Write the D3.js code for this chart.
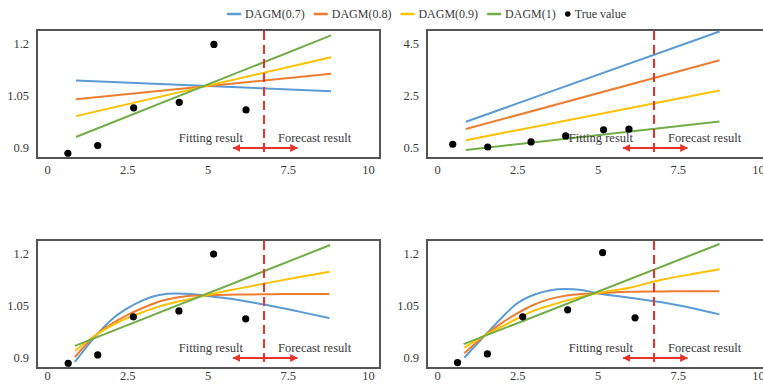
<!DOCTYPE html>
<html>
<head>
<meta charset="utf-8">
<script src="https://cdn.jsdelivr.net/npm/d3@7"></script>
<style>
  body { margin: 0; background: #fff; }
  svg text { font-family: "Liberation Serif", "Times New Roman", serif; }
</style>
</head>
<body>
<div id="chart"></div>
<script>
// legend / series
const seriesNames = ["DAGM(0.7)", "DAGM(0.8)", "DAGM(0.9)", "DAGM(1)"];
const trueLabel = "True value";
const xTicks = [0, 2.5, 5, 7.5, 10];
const splitX = 6.76;
const arrowFrom = 5.8;
const arrowTo = 7.8;
const fitLabel = "Fitting result";
const forecastLabel = "Forecast result";

// panel a (top left)
const aYTicks = [0.9, 1.05, 1.2];
const aTrueX = [0.65, 1.58, 2.7, 4.12, 5.2, 6.2];
const aTrueY = [0.882, 0.904, 1.013, 1.029, 1.196, 1.007];
const aLineX = [0.9, 8.85];
const aBlue = [1.092, 1.061];
const aOrange = [1.038, 1.111];
const aYellow = [0.989, 1.159];
const aGreen = [0.929, 1.222];

// panel b (top right)
const bYTicks = [0.5, 2.5, 4.5];
const bTrueX = [0.49, 1.58, 2.93, 4.01, 5.19, 5.98];
const bTrueY = [0.605, 0.5, 0.694, 0.927, 1.16, 1.187];
const bLineX = [0.9, 8.8];
const bBlue = [1.47, 4.94];
const bOrange = [1.19, 3.84];
const bYellow = [0.76, 2.675];
const bGreen = [0.384, 1.483];

// panel c (bottom left)
const cYTicks = [0.9, 1.05, 1.2];
const cTrueX = [0.66, 1.58, 2.69, 4.11, 5.19, 6.19];
const cTrueY = [0.882, 0.906, 1.016, 1.033, 1.197, 1.010];
const cCurveX = [0.87, 1.5, 2, 2.5, 3, 3.5, 4, 4.5, 5, 6, 7, 8, 8.8];
const cBlue = [0.886, 0.959, 1.007, 1.040, 1.064, 1.079, 1.083, 1.082, 1.076, 1.064, 1.047, 1.028, 1.012];
const cOrange = [0.900, 0.962, 0.995, 1.021, 1.042, 1.060, 1.071, 1.077, 1.078, 1.080, 1.081, 1.082, 1.082];
const cYellow = [0.918, 0.962, 0.990, 1.012, 1.030, 1.046, 1.058, 1.068, 1.079, 1.098, 1.116, 1.133, 1.146];
const cGreenX = [0.87, 8.82];
const cGreen = [0.932, 1.223];

// panel d (bottom right)
const dYTicks = [0.9, 1.05, 1.2];
const dTrueX = [0.64, 1.57, 2.67, 4.07, 5.16, 6.17];
const dTrueY = [0.884, 0.909, 1.016, 1.036, 1.201, 1.013];
const dCurveX = [0.85, 1.5, 2, 2.5, 3, 3.5, 4, 4.5, 5, 6, 7, 8, 8.8];
const dBlue = [0.898, 0.963, 1.012, 1.055, 1.079, 1.092, 1.096, 1.093, 1.084, 1.071, 1.058, 1.040, 1.023];
const dOrange = [0.911, 0.963, 0.997, 1.026, 1.050, 1.067, 1.077, 1.082, 1.084, 1.088, 1.089, 1.090, 1.090];
const dYellow = [0.927, 0.963, 0.987, 1.011, 1.033, 1.048, 1.062, 1.074, 1.084, 1.100, 1.123, 1.140, 1.153];
const dGreenX = [0.83, 8.8];
const dGreen = [0.937, 1.226];

const colors = ["#5b9bd5", "#ed7d31", "#ffc000", "#70ad47"];
const red = "#e8322a";
const textColor = "#3a3a3a";
const serif = "Liberation Serif, Times New Roman, serif";

const W = 763, H = 390;
const svg = d3.select("#chart").append("svg").attr("width", W).attr("height", H);

const defs = svg.append("defs");
["start", "end"].forEach(k => {
  defs.append("marker")
    .attr("id", "arrow-" + k)
    .attr("viewBox", "0 0 10 10")
    .attr("refX", 9).attr("refY", 5)
    .attr("markerWidth", 4).attr("markerHeight", 4)
    .attr("orient", k === "end" ? "auto" : "auto-start-reverse")
    .append("path")
      .attr("d", "M0,0 L10,5 L0,10 z")
      .attr("fill", red);
});

const panels = [
  { left: 37, top: 30, labelPad: 7, yTicks: aYTicks, trueX: aTrueX, trueY: aTrueY,
    series: [[aLineX, aBlue], [aLineX, aOrange], [aLineX, aYellow], [aLineX, aGreen]] },
  { left: 427, top: 30, labelPad: 7, yTicks: bYTicks, trueX: bTrueX, trueY: bTrueY,
    series: [[bLineX, bBlue], [bLineX, bOrange], [bLineX, bYellow], [bLineX, bGreen]] },
  { left: 37, top: 240, labelPad: 3, yTicks: cYTicks, trueX: cTrueX, trueY: cTrueY,
    series: [[cCurveX, cBlue], [cCurveX, cOrange], [cCurveX, cYellow], [cGreenX, cGreen]] },
  { left: 427, top: 240, labelPad: 3, yTicks: dYTicks, trueX: dTrueX, trueY: dTrueY,
    series: [[dCurveX, dBlue], [dCurveX, dOrange], [dCurveX, dYellow], [dGreenX, dGreen]] }
];

const boxW = 343, boxH = 128;

panels.forEach(p => {
  const g = svg.append("g").attr("transform", `translate(${p.left},${p.top})`);

  const x = d3.scaleLinear().domain([0, 10]).range([10, 331]);
  const y = d3.scaleLinear()
    .domain([p.yTicks[0], p.yTicks[p.yTicks.length - 1]])
    .range([boxH - 11, 13]);

  // plot frame
  g.append("rect")
    .attr("width", boxW).attr("height", boxH)
    .attr("fill", "none")
    .attr("stroke", "#555")
    .attr("stroke-width", 2);

  // y axis labels
  g.append("g")
    .call(d3.axisLeft(y).tickValues(p.yTicks).tickSize(0).tickPadding(8).tickFormat(d => d))
    .attr("font-family", serif)
    .attr("font-size", 12.5)
    .call(a => a.select(".domain").remove())
    .selectAll("text")
      .attr("fill", textColor);

  // x axis labels
  g.append("g")
    .attr("transform", `translate(0,${boxH})`)
    .call(d3.axisBottom(x).tickValues(xTicks).tickSize(0).tickPadding(p.labelPad).tickFormat(d => d))
    .attr("font-family", serif)
    .attr("font-size", 12.5)
    .call(a => a.select(".domain").remove())
    .selectAll("text")
      .attr("fill", textColor);

  // fitted lines
  p.series.forEach((s, i) => {
    const pts = s[0].map((v, j) => [v, s[1][j]]);
    g.append("path")
      .datum(pts)
      .attr("fill", "none")
      .attr("stroke", colors[i])
      .attr("stroke-width", 2)
      .attr("d", d3.line()
        .x(d => x(d[0]))
        .y(d => y(d[1]))
        .curve(d3.curveMonotoneX));
  });

  // true values
  g.selectAll(".pt")
    .data(p.trueX.map((v, j) => [v, p.trueY[j]]))
    .join("circle")
      .attr("cx", d => x(d[0]))
      .attr("cy", d => y(d[1]))
      .attr("r", 3.6)
      .attr("fill", "#000");

  // split between fitting and forecast
  g.append("line")
    .attr("x1", x(splitX)).attr("x2", x(splitX))
    .attr("y1", 1).attr("y2", boxH - 1)
    .attr("stroke", red)
    .attr("stroke-width", 2)
    .attr("stroke-dasharray", "9,5");

  g.append("line")
    .attr("x1", x(arrowFrom)).attr("x2", x(arrowTo))
    .attr("y1", boxH - 10).attr("y2", boxH - 10)
    .attr("stroke", red)
    .attr("stroke-width", 2)
    .attr("marker-start", "url(#arrow-start)")
    .attr("marker-end", "url(#arrow-end)");

  g.append("text")
    .attr("x", x(splitX) - 21).attr("y", boxH - 16)
    .attr("text-anchor", "end")
    .attr("font-family", serif)
    .attr("font-size", 12.5)
    .attr("fill", textColor)
    .text(fitLabel);

  g.append("text")
    .attr("x", x(splitX) + 14).attr("y", boxH - 16)
    .attr("font-family", serif)
    .attr("font-size", 12.5)
    .attr("fill", textColor)
    .text(forecastLabel);
});

// legend, right edge at 626
const legend = svg.append("g").attr("transform", "translate(0,14)");
const items = seriesNames.map((n, i) => ({ name: n, color: colors[i], dot: false }))
  .concat([{ name: trueLabel, color: "#000", dot: true }]);
let lx = 0;
const lg = legend.append("g");
items.forEach(it => {
  if (it.dot) {
    lg.append("circle").attr("cx", lx + 3).attr("cy", 0).attr("r", 2.8).attr("fill", it.color);
    lx += 10;
  } else {
    lg.append("line")
      .attr("x1", lx).attr("x2", lx + 14)
      .attr("stroke", it.color).attr("stroke-width", 2.5);
    lx += 18;
  }
  const t = lg.append("text")
    .attr("x", lx).attr("y", 4)
    .attr("font-family", serif)
    .attr("font-size", 12)
    .attr("fill", textColor)
    .text(it.name);
  lx += t.node().getComputedTextLength() + 9;
});
lg.attr("transform", `translate(${626 - (lx - 9)},0)`);
</script>
</body>
</html>
